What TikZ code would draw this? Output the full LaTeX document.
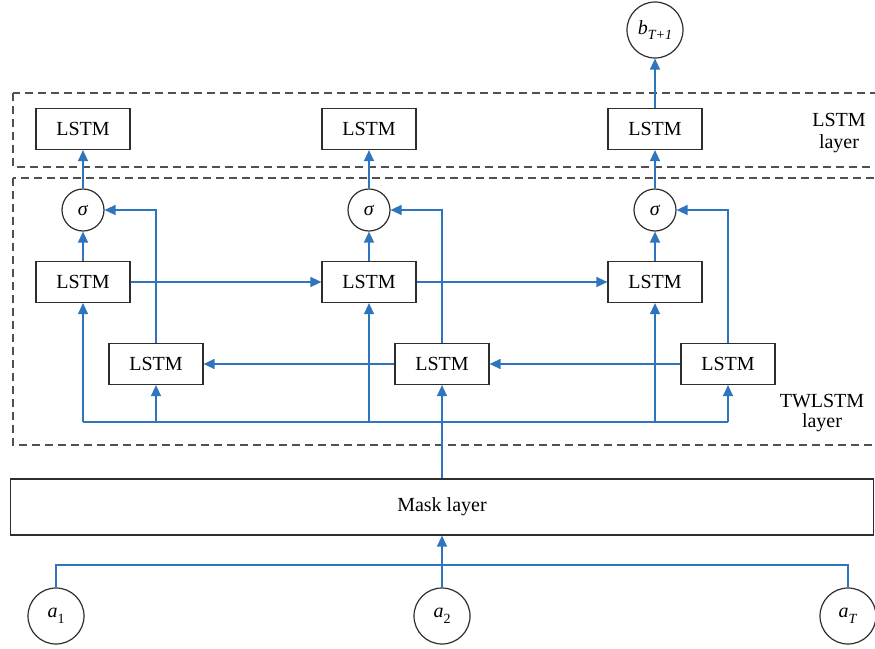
\documentclass[tikz,border=0pt]{standalone}
\usepackage{fontspec}
\setmainfont{Liberation Serif}
\usetikzlibrary{arrows.meta}
\definecolor{flow}{RGB}{46,117,189}
\definecolor{frame}{RGB}{45,45,45}
\definecolor{dashc}{RGB}{80,80,80}
% italic symbol with a lowered subscript
\newcommand{\varsub}[2]{\textit{#1}\raisebox{-0.28em}{\fontsize{14}{14}\selectfont #2}}
\begin{document}
\begin{tikzpicture}[x=1pt,y=-1pt,
  txt/.style={font=\fontsize{20}{24}\selectfont},
  cell/.style={txt,draw=frame,line width=1.2pt,minimum width=94pt,minimum height=41pt,inner sep=0pt},
  gate/.style={txt,circle,draw=frame,line width=1.2pt,minimum size=42pt,inner sep=0pt},
  io/.style={txt,circle,draw=frame,line width=1.2pt,minimum size=56pt,inner sep=0pt},
  wire/.style={draw=flow,line width=1.4pt},
  feed/.style={wire,-{Triangle[length=11pt,width=10pt]}},
  layerbox/.style={draw=dashc,line width=1.2pt,dash pattern=on 8pt off 5pt}
]
\useasboundingbox (0,0) rectangle (875,648);
\clip (0,0) rectangle (875,648);

% layer frames
\draw[layerbox] (13,93) rectangle (885,167);
\draw[layerbox] (13,178) rectangle (885,445);
\node[txt,align=center,inner sep=0pt] (lstmlab) at (839,133) {LSTM\\[-2pt]layer};
\node[txt,align=center,inner sep=0pt] (twlab) at (822,413) {TWLSTM\\[-4pt]layer};

% mask layer
\node[txt,draw=frame,line width=1.2pt,minimum width=863pt,minimum height=56pt,inner sep=0pt] (mask) at (442,507) {Mask layer};

% upper LSTM layer
\node[cell] (u1) at (83,129) {LSTM};
\node[cell] (u2) at (369,129) {LSTM};
\node[cell] (u3) at (655,129) {LSTM};

% gates
\node[gate] (s1) at (83,210) {\textit{σ}};
\node[gate] (s2) at (369,210) {\textit{σ}};
\node[gate] (s3) at (655,210) {\textit{σ}};

% forward cells
\node[cell] (f1) at (83,282) {LSTM};
\node[cell] (f2) at (369,282) {LSTM};
\node[cell] (f3) at (655,282) {LSTM};

% backward cells
\node[cell] (r1) at (156,364) {LSTM};
\node[cell] (r2) at (442,364) {LSTM};
\node[cell] (r3) at (728,364) {LSTM};

% inputs and output
\node[io] (a1) at (56,616) {\varsub{a}{1}};
\node[io] (a2) at (442,616) {\varsub{a}{2}};
\node[io] (aT) at (848,616) {\varsub{a}{\textit{T}}};
\node[io] (out) at (655,30) {\varsub{b}{\textit{T+1}}};

\coordinate (busL) at (83,422);
\coordinate (busR) at (728,422);
\coordinate (inL) at (56,565);
\coordinate (inR) at (848,565);

% inputs into the mask layer
\draw[wire] (a1.north) |- (inL) -- (inR) -- (aT.north);
\draw[feed] (a2.north) -- (mask.south);

% mask layer into the bus
\draw[wire] (mask.north -| r2) -- (r2 |- busL);
\draw[wire] (busL) -- (busR);
\draw[feed] (busL) -- (f1.south);
\draw[feed] (f2 |- busL) -- (f2.south);
\draw[feed] (f3 |- busL) -- (f3.south);
\draw[feed] (r1 |- busL) -- (r1.south);
\draw[feed] (r2 |- busL) -- (r2.south);
\draw[feed] (busR) -- (r3.south);

% forward and backward chains
\draw[feed] (f1.east) -- (f2.west);
\draw[feed] (f2.east) -- (f3.west);
\draw[feed] (r3.west) -- (r2.east);
\draw[feed] (r2.west) -- (r1.east);

% into the gates
\draw[feed] (f1.north) -- (s1.south);
\draw[feed] (f2.north) -- (s2.south);
\draw[feed] (f3.north) -- (s3.south);
\draw[feed] (r1.north) |- (s1.east);
\draw[feed] (r2.north) |- (s2.east);
\draw[feed] (r3.north) |- (s3.east);

% gates into the upper layer
\draw[feed] (s1.north) -- (u1.south);
\draw[feed] (s2.north) -- (u2.south);
\draw[feed] (s3.north) -- (u3.south);
\draw[feed] (u3.north) -- (out.south);
\end{tikzpicture}
\end{document}
